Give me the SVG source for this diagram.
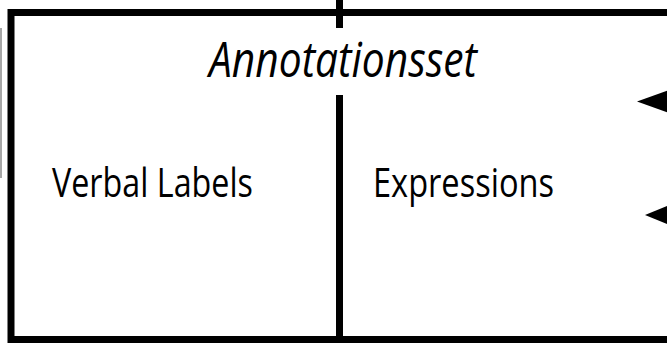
<svg xmlns="http://www.w3.org/2000/svg" width="667" height="343" viewBox="0 0 667 343">
  <style>
    .frame { fill: #ffffff; stroke: #000000; stroke-width: 7; }
    .bar { stroke: #000000; stroke-width: 7; fill: none; }
    .lbl { font-family: "Open Sans", "Liberation Sans", sans-serif; fill: #000000; }
    .title { font-style: italic; font-size: 50px; }
    .cell { font-size: 40px; }
    .head { fill: #000000; stroke: none; }
  </style>
  <rect width="667" height="343" fill="#ffffff"/>
  <g id="fragment-left">
    <line x1="1" y1="28" x2="1" y2="178" stroke="#8a8a8a" stroke-width="1.5"/>
  </g>
  <g id="annotationsset">
    <rect class="frame" x="11" y="12.5" width="700" height="327"/>
    <text class="lbl title" x="209" y="77" textLength="268" lengthAdjust="spacingAndGlyphs">Annotationsset</text>
    <line class="bar" x1="339.5" y1="95" x2="339.5" y2="339.5"/>
  </g>
  <g id="verbal-labels">
    <text class="lbl cell" x="52" y="197" textLength="201" lengthAdjust="spacingAndGlyphs">Verbal Labels</text>
  </g>
  <g id="expressions">
    <text class="lbl cell" x="373" y="197" textLength="181" lengthAdjust="spacingAndGlyphs">Expressions</text>
  </g>
  <g id="connectors">
    <line class="bar" x1="339.5" y1="0" x2="339.5" y2="28"/>
    <line class="bar" x1="670" y1="101.5" x2="700" y2="101.5"/>
    <polygon class="head" points="637,101.5 672,89 672,114"/>
    <line class="bar" x1="670" y1="215" x2="700" y2="215"/>
    <polygon class="head" points="645,215 672,204 672,226"/>
  </g>
</svg>
